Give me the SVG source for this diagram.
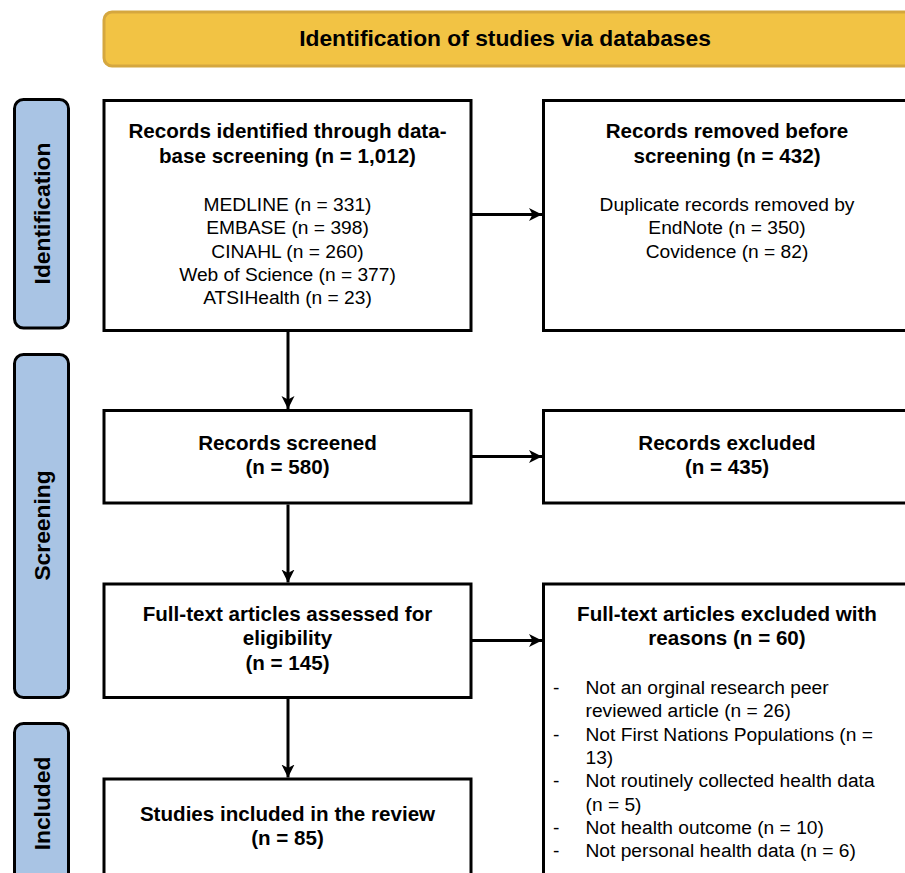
<svg xmlns="http://www.w3.org/2000/svg" width="905" height="873" viewBox="0 0 905 873">
<defs>
<style>
.box{fill:#ffffff;stroke:#000000;stroke-width:3}
.side{fill:#a9c4e4;stroke:#000000;stroke-width:3}
.banner{fill:#f2c344;stroke:#d5a73f;stroke-width:3}
.t{font-family:"Liberation Sans",Arial,sans-serif;fill:#000000;text-anchor:middle}
.b{font-weight:bold;font-size:20.6px}
.r{font-size:19.2px}
.l{font-family:"Liberation Sans",Arial,sans-serif;fill:#000000;font-size:19.2px}
.h{font-weight:bold;font-size:22.8px}
.c{fill:none;stroke:#000000;stroke-width:3}
</style>
<marker id="arr" markerUnits="userSpaceOnUse" markerWidth="14" markerHeight="14" viewBox="0 0 14 14" refX="13" refY="7" orient="auto">
<path d="M0,0.5 L13,7 L0,13.5 L3.5,7 Z" fill="#000000"/>
</marker>
</defs>

<g id="banner">
<rect class="banner" x="104" y="12" width="810" height="54" rx="8" ry="8"/>
<text class="t h" x="505" y="46">Identification of studies via databases</text>
</g>

<g id="stage-identification">
<rect class="side" x="14.5" y="99.5" width="54" height="228.5" rx="9" ry="9"/>
<text class="t h" transform="translate(49.5,213.5) rotate(-90)">Identification</text>
</g>
<g id="stage-screening">
<rect class="side" x="14.5" y="354.5" width="54" height="343" rx="9" ry="9"/>
<text class="t h" transform="translate(49.5,525.5) rotate(-90)">Screening</text>
</g>
<g id="stage-included">
<rect class="side" x="14.5" y="723.5" width="54" height="160" rx="9" ry="9"/>
<text class="t h" transform="translate(49.5,803.5) rotate(-90)">Included</text>
</g>

<g id="connectors">
<line class="c" x1="288" y1="331" x2="288" y2="409" marker-end="url(#arr)"/>
<line class="c" x1="288" y1="504.5" x2="288" y2="582.5" marker-end="url(#arr)"/>
<line class="c" x1="288" y1="699" x2="288" y2="777.5" marker-end="url(#arr)"/>
<line class="c" x1="472" y1="214.5" x2="542" y2="214.5" marker-end="url(#arr)"/>
<line class="c" x1="472" y1="456.5" x2="542" y2="456.5" marker-end="url(#arr)"/>
<line class="c" x1="472" y1="640.5" x2="542" y2="640.5" marker-end="url(#arr)"/>
</g>

<g id="records-identified">
<rect class="box" x="104" y="100.5" width="367" height="230"/>
<text class="t b" x="287.5" y="138">Records identified through data-</text>
<text class="t b" x="287.5" y="163">base screening (n = 1,012)</text>
<text class="t r" x="287.5" y="211">MEDLINE (n = 331)</text>
<text class="t r" x="287.5" y="234.3">EMBASE (n = 398)</text>
<text class="t r" x="287.5" y="257.6">CINAHL (n = 260)</text>
<text class="t r" x="287.5" y="280.9">Web of Science (n = 377)</text>
<text class="t r" x="287.5" y="304.2">ATSIHealth (n = 23)</text>
</g>

<g id="records-removed">
<rect class="box" x="543.5" y="100.5" width="367" height="230"/>
<text class="t b" x="727" y="138">Records removed before</text>
<text class="t b" x="727" y="163">screening (n = 432)</text>
<text class="t r" x="727" y="211">Duplicate records removed by</text>
<text class="t r" x="727" y="234.3">EndNote (n = 350)</text>
<text class="t r" x="727" y="257.6">Covidence (n = 82)</text>
</g>

<g id="records-screened">
<rect class="box" x="104" y="410.5" width="367" height="92.5"/>
<text class="t b" x="287.5" y="449.5">Records screened</text>
<text class="t b" x="287.5" y="473.5">(n = 580)</text>
</g>

<g id="records-excluded">
<rect class="box" x="543.5" y="410.5" width="367" height="92.5"/>
<text class="t b" x="727" y="449.5">Records excluded</text>
<text class="t b" x="727" y="473.5">(n = 435)</text>
</g>

<g id="full-text-assessed">
<rect class="box" x="104" y="584" width="367" height="113.5"/>
<text class="t b" x="287.5" y="621">Full-text articles assessed for</text>
<text class="t b" x="287.5" y="645">eligibility</text>
<text class="t b" x="287.5" y="669.5">(n = 145)</text>
</g>

<g id="full-text-excluded">
<rect class="box" x="543.5" y="584" width="367" height="300"/>
<text class="t b" x="727" y="620.5">Full-text articles excluded with</text>
<text class="t b" x="727" y="644.5">reasons (n = 60)</text>
<text class="l" x="553" y="694">-</text>
<text class="l" x="585.5" y="694">Not an orginal research peer</text>
<text class="l" x="585.5" y="717.3">reviewed article (n = 26)</text>
<text class="l" x="553" y="740.6">-</text>
<text class="l" x="585.5" y="740.6">Not First Nations Populations (n =</text>
<text class="l" x="585.5" y="763.9">13)</text>
<text class="l" x="553" y="787.2">-</text>
<text class="l" x="585.5" y="787.2">Not routinely collected health data</text>
<text class="l" x="585.5" y="810.5">(n = 5)</text>
<text class="l" x="553" y="833.8">-</text>
<text class="l" x="585.5" y="833.8">Not health outcome (n = 10)</text>
<text class="l" x="553" y="857.1">-</text>
<text class="l" x="585.5" y="857.1">Not personal health data (n = 6)</text>
</g>

<g id="studies-included">
<rect class="box" x="104" y="779" width="367" height="110"/>
<text class="t b" x="287.5" y="821">Studies included in the review</text>
<text class="t b" x="287.5" y="845">(n = 85)</text>
</g>
</svg>
